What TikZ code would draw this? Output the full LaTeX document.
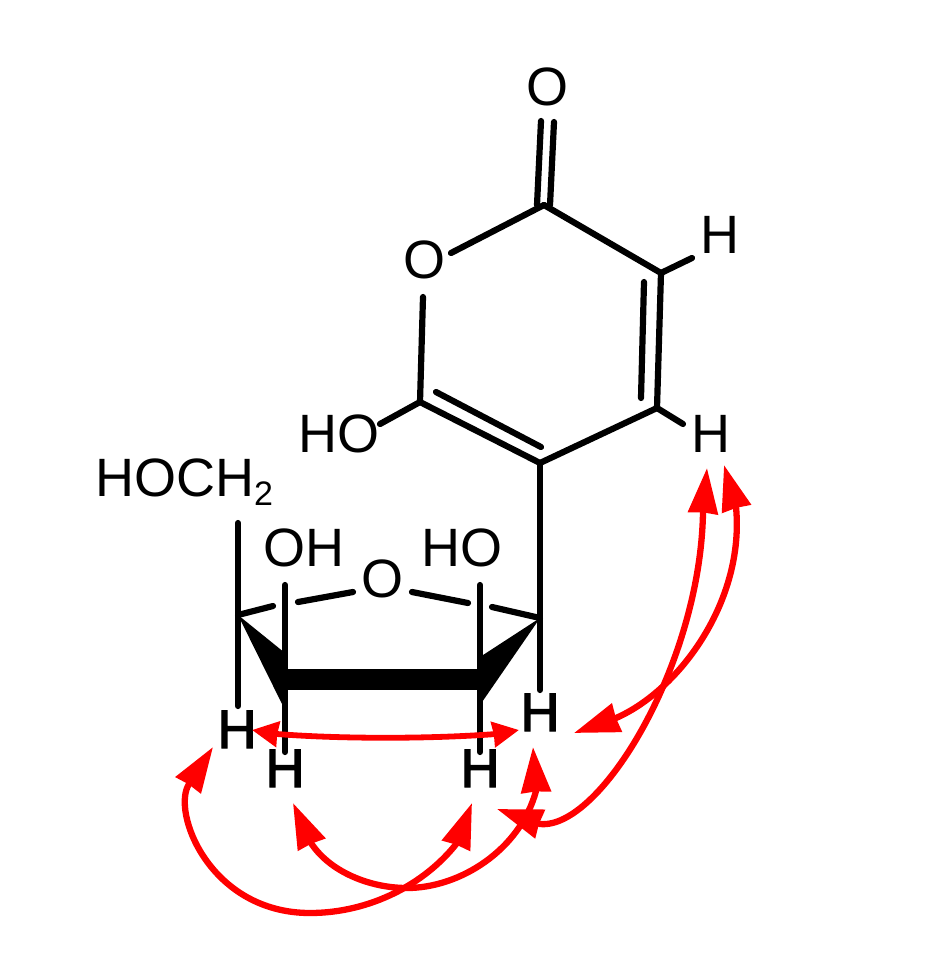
\documentclass[tikz,border=0pt]{standalone}
\usepackage{fontspec}
\setmainfont{Liberation Sans}
\newfontfamily\boldishfont[FakeBold=2.5]{Liberation Sans}
\usetikzlibrary{arrows.meta}
\tikzset{
  atom/.style={inner sep=0pt,text depth=0pt,text height=38pt,font=\fontsize{54}{60}\selectfont},
  atomb/.style={atom,font=\boldishfont\fontsize{54}{60}\selectfont},
  bond/.style={line width=6.2pt,line cap=round,black},
  noe/.style={line width=6.3pt,red,{Stealth[length=45pt,width=29pt,inset=0.5pt]}-{Stealth[length=45pt,width=29pt,inset=0.5pt]}},
  noeshort/.style={line width=5.8pt,red,{Stealth[length=26pt,width=25pt,inset=0.5pt]}-{Stealth[length=26pt,width=25pt,inset=0.5pt]}}
}
\begin{document}
\begin{tikzpicture}[x=1pt,y=-1pt]
\useasboundingbox (0,0) rectangle (931,954);
% labels
\node[atom] (Otop) at (547,86) {O};
\node[atom] (Oring) at (424,259) {O};
\node[atom] (Hup) at (720,234) {H};
\node[atom] (Hmid) at (711,433) {H};
\node[atom] (HOa) at (339,433) {HO};
\node[atom,anchor=base west,text height=0pt] (HOCH) at (95,496) {HOCH\raisebox{-9pt}{\fontsize{34}{34}\selectfont 2}};
\node[atom] (OHl) at (304,547) {OH};
\node[atom] (HOr) at (462,547) {HO};
\node[atom] (Ofur) at (382,578) {O};
\node[atomb] (H1) at (237,729) {H};
\node[atomb] (H2) at (285,768) {H};
\node[atomb] (H3) at (480,768) {H};
\node[atomb] (H4) at (540,712) {H};
% skeleton points
\coordinate (c2) at (544,205);
\coordinate (c3) at (661,273);
\coordinate (c4) at (657,408);
\coordinate (c5) at (540,463);
\coordinate (c6) at (420,402);
\coordinate (f1) at (540,618);
\coordinate (f4) at (238,615);
\coordinate (o1a) at (451,253);
\coordinate (o1b) at (423,297);
% pyranone ring
\draw[bond] (541,121) -- (537,205);
\draw[bond] (554,122) -- (550,205);
\draw[bond] (o1a) -- (c2);
\draw[bond] (c2) -- (c3) -- (c4) -- (c5) -- (c6) -- (o1b);
\draw[bond] (644,282) -- (641,398);
\draw[bond] (541,447) -- (436,392);
\draw[bond] (c3) -- (692,258);
\draw[bond] (c4) -- (683,424);
\draw[bond] (c6) -- (380,424);
\draw[bond] (c5) -- (f1) -- (540,690);
% furanose ring
\draw[bond] (f1) -- (492,607);
\draw[bond] (468,603) -- (412,592);
\draw[bond] (353,592) -- (298,602);
\draw[bond] (273,606) -- (f4);
\draw[bond] (238,523) -- (238,706);
\draw[bond] (285,585) -- (285,752);
\draw[bond] (480,585) -- (480,752);
\fill[black] (285,669) rectangle (480,690);
\fill[black] (f4) -- (285,653) -- (285,710) -- cycle;
\fill[black] (f1) -- (480,657) -- (480,705) -- cycle;
% NOE arrows
\coordinate (a0) at (213,747); \coordinate (a1) at (189,784);
\coordinate (am) at (310,913);
\coordinate (a2) at (457,843); \coordinate (a3) at (472,803);
\draw[noe] (a0) -- (a1) .. controls (171,812) and (210,913) .. (am)
  .. controls (370,913) and (425,884) .. (a2) -- (a3);
\coordinate (b0) at (293,803); \coordinate (b1) at (311,843);
\coordinate (bm) at (407,888);
\coordinate (b2) at (536,791); \coordinate (b3) at (533,747);
\draw[noe] (b0) -- (b1) .. controls (330,872) and (370,888) .. (bm)
  .. controls (460,888) and (520,850) .. (b2) -- (b3);
\coordinate (c0) at (497,809); \coordinate (c1) at (540,824);
\coordinate (cb) at (703,513); \coordinate (ct) at (707,468);
\draw[noe] (c0) -- (c1) .. controls (600,830) and (700,665) .. (cb) -- (ct);
\coordinate (d0) at (574,733); \coordinate (d1) at (616,718);
\coordinate (db) at (736,507); \coordinate (dt) at (724,465);
\draw[noe] (d0) -- (d1) .. controls (680,690) and (745,600) .. (db) -- (dt);
\coordinate (e0) at (252,730); \coordinate (e1) at (277,734);
\coordinate (e2) at (496,734); \coordinate (e3) at (519,730);
\draw[noeshort] (e0) -- (e1) .. controls (340,739) and (430,739) .. (e2) -- (e3);
\end{tikzpicture}
\end{document}
